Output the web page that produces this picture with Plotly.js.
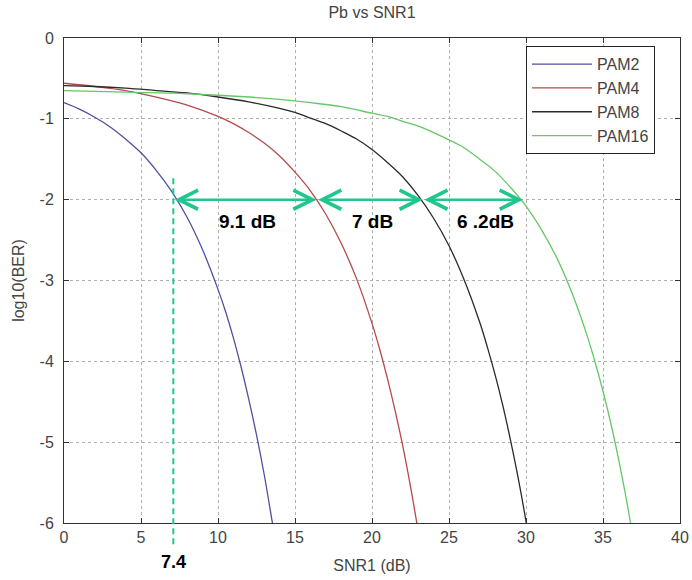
<!DOCTYPE html>
<html>
<head>
<meta charset="utf-8">
<script src="https://cdn.plot.ly/plotly-3.0.1.min.js"></script>
<style>html,body{margin:0;padding:0;background:#fff;}#chart{width:692px;height:580px;}</style>
</head>
<body>
<div id="chart"></div>
<script>
// ---- data ----
var seriesNames = ["PAM2", "PAM4", "PAM8", "PAM16"];

var snrPAM2 = [0,1,2,3,4,5,6,7,8,9,10,10.5,11,11.5,12,12.5,13,13.5,13.6];
var berPAM2 = [-0.80,-0.88,-0.98,-1.10,-1.25,-1.42,-1.64,-1.90,-2.22,-2.62,-3.11,-3.39,-3.71,-4.07,-4.47,-4.91,-5.40,-5.96,-6.07];

var snrPAM4 = [0,2,4,6,8,10,11,12,13,14,15,16,17,18,19,20,20.5,21,21.5,22,22.5,23];
var berPAM4 = [-0.56,-0.60,-0.65,-0.73,-0.83,-0.97,-1.06,-1.17,-1.30,-1.46,-1.66,-1.89,-2.18,-2.54,-2.98,-3.53,-3.85,-4.21,-4.61,-5.05,-5.55,-6.10];

var snrPAM8 = [0,2,4,6,8,10,12,14,15,16,17,18,19,20,21,22,23,24,25,26,27,27.5,28,28.5,29,29.5,30,30.2];
var berPAM8 = [-0.59,-0.60,-0.62,-0.65,-0.68,-0.73,-0.79,-0.87,-0.92,-0.99,-1.06,-1.15,-1.25,-1.38,-1.54,-1.72,-1.95,-2.23,-2.57,-3.00,-3.52,-3.83,-4.17,-4.55,-4.98,-5.45,-5.98,-6.22];

var snrPAM16 = [0,4,8,12,14,16,18,20,21,22,23,24,25,26,27,28,29,30,31,32,33,34,34.5,35,35.5,36,36.5,37];
var berPAM16 = [-0.65,-0.67,-0.69,-0.73,-0.76,-0.80,-0.85,-0.93,-0.97,-1.03,-1.09,-1.17,-1.26,-1.36,-1.50,-1.65,-1.85,-2.08,-2.37,-2.72,-3.16,-3.70,-4.02,-4.37,-4.76,-5.20,-5.69,-6.24];

var xTickVals = [0,5,10,15,20,25,30,35,40];
var xTickText = ["0","5","10","15","20","25","30","35","40"];
var yTickVals = [0,-1,-2,-3,-4,-5,-6];
var yTickText = ["0","-1","-2","-3","-4","-5","-6"];

// annotation markers (gap arrows at log10(BER) = -2)
var refLevel = -2;
var crossPoints = [7.1, 16.4, 23.3, 29.8];
var gapLabels = ["9.1 dB", "7 dB", "6 .2dB"];
var gapLabelX = [11.9, 20.0, 27.4];
var markerLabel = "7.4";

// ---- styles ----
var colors = ["#50509e", "#b44a4a", "#2a2a2a", "#66c766"];
var accent = "#1fc78e";
var xs = [snrPAM2, snrPAM4, snrPAM8, snrPAM16];
var ys = [berPAM2, berPAM4, berPAM8, berPAM16];
var fontFam = "Liberation Sans, Arial, sans-serif";

var traces = seriesNames.map(function (n, i) {
  return {
    x: xs[i], y: ys[i], name: n, type: "scatter", mode: "lines",
    line: {color: colors[i], width: 1.3, shape: "spline", smoothing: 1}
  };
});

var annotations = [];
for (var i = 0; i < crossPoints.length - 1; i++) {
  annotations.push({
    x: crossPoints[i + 1], y: refLevel, ax: crossPoints[i], ay: refLevel,
    xref: "x", yref: "y", axref: "x", ayref: "y", text: "",
    showarrow: true, arrowside: "end+start",
    arrowhead: 5, startarrowhead: 5, arrowsize: 1.5, startarrowsize: 1.5,
    arrowwidth: 2.5, arrowcolor: accent, standoff: 0, startstandoff: 0
  });
  annotations.push({
    x: gapLabelX[i], y: -2.27, xref: "x", yref: "y", text: "<b>" + gapLabels[i] + "</b>",
    showarrow: false, font: {family: fontFam, size: 19, color: "#000"},
    xanchor: "center", yanchor: "middle"
  });
}
annotations.push({
  x: crossPoints[0] / 40, y: -0.08, xref: "paper", yref: "paper", text: "<b>" + markerLabel + "</b>",
  showarrow: false, font: {family: fontFam, size: 18, color: "#000"},
  xanchor: "center", yanchor: "middle"
});

var axisFont = {family: fontFam, size: 16, color: "#444"};

var layout = {
  width: 692, height: 580,
  margin: {l: 64, r: 12, t: 38, b: 57},
  paper_bgcolor: "#fff", plot_bgcolor: "#fff",
  title: {text: "Pb vs SNR1", font: {family: fontFam, size: 16, color: "#444"},
          x: 0.5, xref: "paper", y: 0.978, yref: "container", yanchor: "middle"},
  xaxis: {
    range: [0, 40], tickvals: xTickVals, ticktext: xTickText,
    ticks: "inside", ticklen: 5, tickcolor: "#333", showline: true, linecolor: "#333", linewidth: 1,
    mirror: "ticks", showgrid: true, gridcolor: "#b0b0b0", griddash: "dot", gridwidth: 1,
    zeroline: false, tickfont: axisFont,
    title: {text: "SNR1 (dB)", font: {family: fontFam, size: 16, color: "#444"}, standoff: 14}
  },
  yaxis: {
    range: [-6, 0], tickvals: yTickVals, ticktext: yTickText,
    ticks: "inside", ticklen: 5, tickcolor: "#333", showline: true, linecolor: "#333", linewidth: 1,
    mirror: "ticks", showgrid: true, gridcolor: "#b0b0b0", griddash: "dot", gridwidth: 1,
    zeroline: false, tickfont: axisFont, ticklabelstandoff: 6,
    title: {text: "log10(BER)", font: {family: fontFam, size: 16, color: "#444"}, standoff: 10}
  },
  legend: {
    x: 0.75, y: 0.983, xanchor: "left", yanchor: "top",
    bgcolor: "#fff", bordercolor: "#222", borderwidth: 1,
    itemwidth: 60, entrywidth: 96, entrywidthmode: "pixels",
    font: {family: fontFam, size: 16, color: "#444"}
  },
  shapes: [{
    type: "line", xref: "paper", yref: "paper",
    x0: crossPoints[0] / 40, x1: crossPoints[0] / 40, y0: 0.711, y1: -0.052,
    line: {color: accent, width: 2, dash: "6px,4px"}
  }],
  annotations: annotations,
  showlegend: true
};

Plotly.newPlot("chart", traces, layout, {displayModeBar: false, staticPlot: true});
</script>
</body>
</html>
